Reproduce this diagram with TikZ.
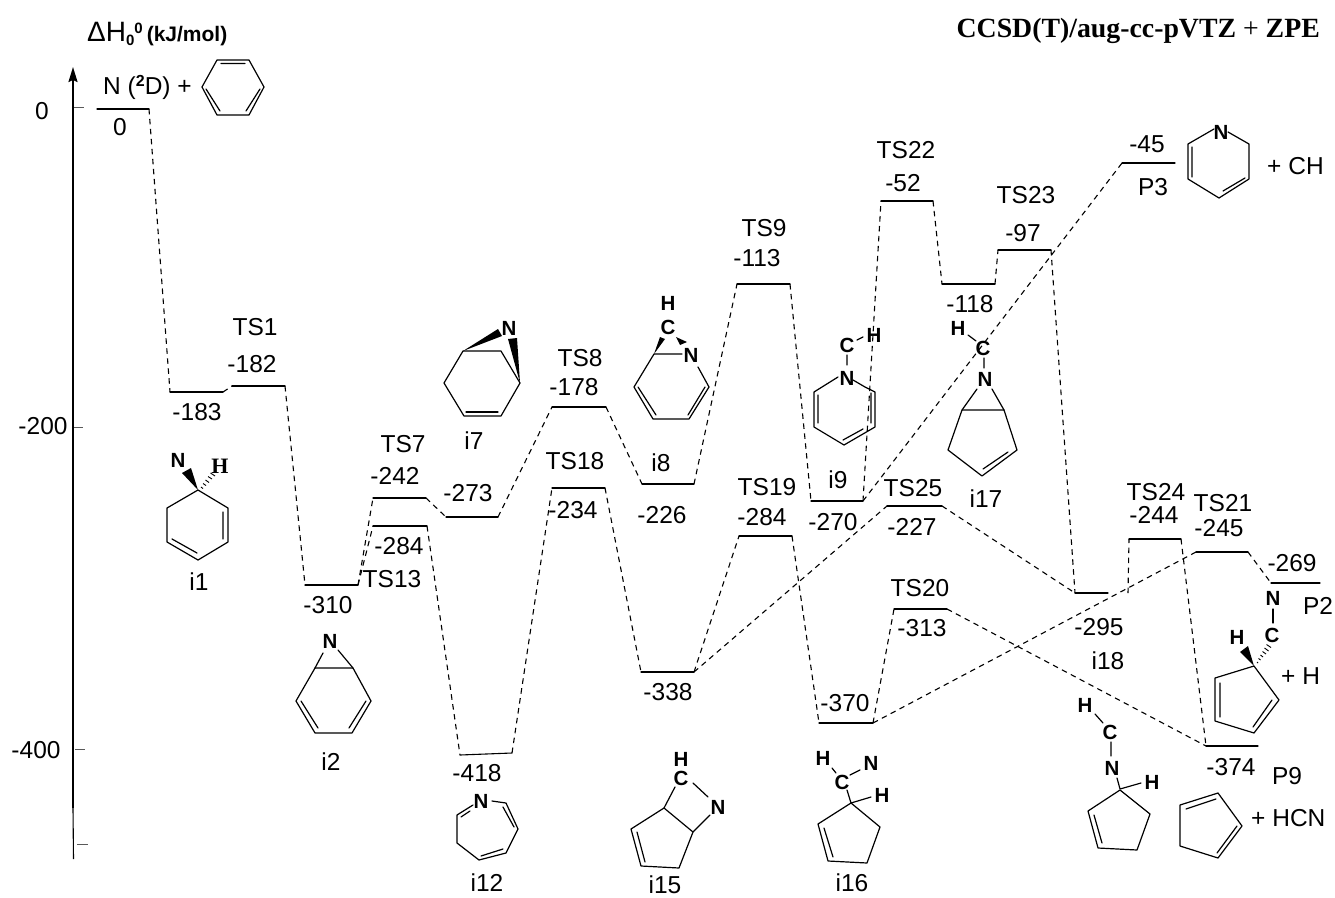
\documentclass[tikz,border=0pt]{standalone}
\usepackage{fontspec}
\setmainfont{Liberation Sans}
\newfontfamily\serifttl{Liberation Serif}
\usetikzlibrary{arrows.meta}
\tikzset{
  level/.style={line width=1.1pt,line cap=round},
  conn/.style={line width=1.1pt,dash pattern=on 5.5pt off 4.5pt},
  bond/.style={line width=1.2pt,line join=round,line cap=round},
  tick/.style={line width=0.9pt,black!65},
  lbl/.style={inner sep=0pt,font=\fontsize{24.5}{25}\selectfont},
  atom/.style={inner sep=0pt,font=\fontsize{20.5}{21}\selectfont\bfseries}
}
\newcommand{\enlev}[4]{\coordinate (#1-l) at (#2,#4);\coordinate (#1-r) at (#3,#4);\draw[level] (#1-l) -- (#1-r);}
\newcommand{\wdg}[6]{\fill (#1,#2) -- (#3,#4) -- (#5,#6) -- cycle;}
\begin{document}
\begin{tikzpicture}[x=1pt,y=-1pt]
\useasboundingbox (0,0) rectangle (1335,897);
% axis
\coordinate (axtop) at (73,67);
\coordinate (axmid) at (73,808);
\coordinate (axbot) at (73.5,859);
\draw[line width=1.8pt,-{Stealth[length=15pt,width=9pt,inset=2pt]}] (axmid) -- (axtop);
\draw[line width=1.1pt] (axmid) -- (axbot);
\coordinate (t0a) at (74,107);\coordinate (t0b) at (84,107);\draw[tick] (t0a) -- (t0b);
\coordinate (t2a) at (74,427);\coordinate (t2b) at (83,427);\draw[tick] (t2a) -- (t2b);
\coordinate (t4a) at (75,749);\coordinate (t4b) at (85,749);\draw[tick] (t4a) -- (t4b);
\coordinate (t6a) at (77,844);\coordinate (t6b) at (88,844);\draw[tick] (t6a) -- (t6b);
\node[lbl] (a0) at (42,111) {0};
\node[lbl] (a2) at (43,426) {-200};
\node[lbl] (a4) at (36,750) {-400};
% titles
\node[inner sep=0pt,anchor=base west,font=\fontsize{28}{28}\selectfont] (ttl) at (87,41) {ΔH\raisebox{-4pt}{\fontsize{15}{15}\selectfont\bfseries 0}\raisebox{8pt}{\fontsize{15}{15}\selectfont\bfseries 0}\hspace{4pt}{\fontsize{21}{21}\selectfont\bfseries (kJ/mol)}};
\node[inner sep=0pt,anchor=base east,font=\fontsize{27.8}{28}\selectfont\serifttl] (ttr) at (1320,37) {\textbf{CCSD(T)/aug-cc-pVTZ} + \textbf{ZPE}};
% levels
\enlev{R}{97}{149}{109}
\enlev{i1}{170}{223}{392}
\enlev{ts1}{232}{285}{386}
\enlev{i2}{305}{358}{585}
\enlev{ts7}{373}{426}{498}
\enlev{ts13}{373}{427}{526}
\enlev{i7}{446}{498}{517}
\enlev{ts8}{552}{606}{407}
\enlev{i8}{642}{694}{484}
\enlev{ts9}{737}{790}{284}
\enlev{i9}{811}{863}{501}
\enlev{ts22}{881}{933}{201}
\enlev{m118}{942}{995}{284}
\enlev{ts23}{998}{1051}{250}
\enlev{i18}{1075}{1108}{593}
\enlev{ts24}{1129}{1181}{539}
\enlev{ts21}{1196}{1248}{552}
\enlev{p2}{1271}{1320}{583}
\enlev{p9}{1206}{1258}{746}
\enlev{p3}{1122}{1175}{163}
\enlev{i15}{641}{694}{672}
\enlev{i16}{819}{873}{723}
\enlev{ts18}{552}{605}{488}
\enlev{ts19}{739}{792}{536}
\enlev{ts25}{887}{942}{506}
\enlev{ts20}{894}{947}{609}
\coordinate (i12-l) at (460,755);\coordinate (i12-r) at (512,753);\draw[level] (i12-l) -- (i12-r);
\coordinate (i18-x) at (1128,593);
% connectors
\draw[conn] (R-r) -- (i1-l);
\draw[conn] (i1-r) -- (ts1-l);
\draw[conn] (ts1-r) -- (i2-l);
\draw[conn] (i2-r) -- (ts7-l);
\draw[conn] (i2-r) -- (ts13-l);
\draw[conn] (ts7-r) -- (i7-l);
\draw[conn] (i7-r) -- (ts8-l);
\draw[conn] (ts8-r) -- (i8-l);
\draw[conn] (i8-r) -- (ts9-l);
\draw[conn] (ts9-r) -- (i9-l);
\draw[conn] (i9-r) -- (ts22-l);
\draw[conn] (i9-r) -- (p3-l);
\draw[conn] (ts22-r) -- (m118-l);
\draw[conn] (m118-r) -- (ts23-l);
\draw[conn] (ts23-r) -- (i18-l);
\draw[conn] (i18-x) -- (ts24-l);
\draw[conn] (ts24-r) -- (p9-l);
\draw[conn] (ts13-r) -- (i12-l);
\draw[conn] (i12-r) -- (ts18-l);
\draw[conn] (ts18-r) -- (i15-l);
\draw[conn] (i15-r) -- (ts19-l);
\draw[conn] (i15-r) -- (ts25-l);
\draw[conn] (ts19-r) -- (i16-l);
\draw[conn] (i16-r) -- (ts20-l);
\draw[conn] (i16-r) -- (ts21-l);
\draw[conn] (ts20-r) -- (p9-l);
\draw[conn] (ts25-r) -- (i18-l);
\draw[conn] (ts21-r) -- (p2-l);
% labels
\node[lbl,anchor=base west] (nd) at (103,94) {N (\raisebox{8pt}{\fontsize{16}{16}\selectfont\bfseries 2}D) +};
\foreach \n/\x/\y/\t in {l0/120/127/0,l1/255/327/TS1,l2/252/364/-182,l3/197/412/-183,l4/199/582/i1,
 l5/403/444/TS7,l6/395/476/-242,l7/399/546/-284,l8/392/579/TS13,l9/328/605/-310,l10/331/762/i2,
 l11/468/493/-273,l12/474/441/i7,l13/580/358/TS8,l14/574/387/-178,l15/575/461/TS18,l16/573/510/-234,
 l17/661/463/i8,l18/662/515/-226,l19/764/228/TS9,l20/757/258/-113,l21/767/487/TS19,l22/762/517/-284,
 l23/838/480/i9,l24/833/522/-270,l25/906/150/TS22,l26/903/183/-52,l27/1026/195/TS23,l28/1023/233/-97,
 l29/970/304/-118,l30/1147/144/-45,l31/1153/187/P3,l32/986/499/i17,l33/913/488/TS25,l34/912/527/-227,
 l35/920/588/TS20,l36/922/628/-313,l37/845/703/-370,l38/668/692/-338,l39/477/773/-418,l40/487/883/i12,
 l41/665/885/i15,l42/852/883/i16,l43/1156/492/TS24,l44/1154/515/-244,l45/1223/503/TS21,l46/1219/528/-245,
 l47/1292/563/-269,l48/1318/606/P2,l49/1099/627/-295,l50/1108/661/i18,l51/1231/767/-374,l52/1287/776/P9}
 {\node[lbl] (\n) at (\x,\y) {\t};}
\node[lbl,anchor=west] (pch) at (1267,166) {+ CH};
\node[lbl,anchor=west] (ph) at (1281,676) {+ H};
\node[lbl,anchor=west] (phcn) at (1251,818) {+ HCN};
% benzene
\draw[bond] (217,60) -- (249,60) -- (264,87) -- (249,115) -- (217,115) -- (202,87) -- cycle;
\draw[bond] (221,63.5) -- (245,63.5) (206,89) -- (220,111) (246,111) -- (260,89);
% i1
\node[atom] (a1n) at (178,460) {N};
\node[inner sep=0pt,font=\fontsize{22}{22}\selectfont\serifttl\bfseries] (a1h) at (220,466) {H};
\draw[bond] (198,490) -- (228,508) -- (228,542) -- (198,560) -- (167,542) -- (167,508) -- cycle;
\draw[bond] (223,512) -- (223,539) (172,539) -- (197,553);
\wdg{198}{490}{182}{473}{191}{468}
\draw[line width=0.9pt] (201,487) -- (203,488.5) (203,483.5) -- (206,485.5) (205.5,480) -- (209,482.5) (208,476.5) -- (212,479) (210.5,473) -- (215,476);
% i2
\node[atom] (a2n) at (330,641) {N};
\draw[bond] (315,668) -- (353,668) -- (371,701) -- (352,733) -- (315,733) -- (296,701) -- cycle;
\draw[bond] (315,668) -- (323,653) (353,668) -- (338,650) (301,701) -- (318,728) (366,701) -- (349,728);
% i7
\node[atom] (a7n) at (509,328) {N};
\draw[bond] (463,351) -- (501,351) -- (520,383) -- (501,416) -- (464,416) -- (444,383) -- cycle;
\draw[bond] (466,412) -- (498,412);
\wdg{463}{351}{498}{329}{502}{336}
\wdg{520}{383}{508}{339}{517}{338}
% i8
\node[atom] (a8h) at (668,303) {H};
\node[atom] (a8c) at (668,327) {C};
\node[atom] (a8n) at (691,355) {N};
\draw[bond] (682,354) -- (654,354) -- (634,387) -- (653,419) -- (689,419) -- (709,387) -- (698,367);
\draw[bond] (638,387) -- (656,415) (705,387) -- (688,415);
\wdg{654}{354}{660}{337}{665}{339}
\wdg{676}{337}{687}{342}{680}{345}
% i9
\node[atom] (a9c) at (847,345) {C};
\node[atom] (a9h) at (874,335) {H};
\node[atom] (a9n) at (847,378) {N};
\draw[bond] (857,340) -- (863,337) (847,355) -- (847,365);
\draw[bond] (838,377) -- (814,392) -- (814,427) -- (844,445) -- (875,427) -- (875,392) -- (865,387) (853,380) -- (865,387);
\draw[bond] (818,395) -- (818,423) (843,440) -- (863,429) (871,393) -- (871,423);
% i17
\node[atom] (a17h) at (958,328) {H};
\node[atom] (a17c) at (983,348) {C};
\node[atom] (a17n) at (985,379) {N};
\draw[bond] (968,335) -- (976,341) (984,358) -- (984,368);
\draw[bond] (962,410) -- (1004,410) -- (1017,450) -- (982,476) -- (948,450) -- cycle;
\draw[bond] (962,410) -- (977,389) (1004,410) -- (992,389) (983,469) -- (1008,452);
% P3 pyridine fragment
\node[atom] (p3n) at (1221,132) {N};
\draw[bond] (1214,129) -- (1188,144) -- (1188,179) -- (1219,198) -- (1249,179) -- (1249,144) -- (1228,132);
\draw[bond] (1192,147) -- (1192,177) (1223,191) -- (1245,178);
% P2
\node[atom] (p2n) at (1273,598) {N};
\node[atom] (p2c) at (1272,635) {C};
\node[atom] (p2h) at (1237,637) {H};
\draw[bond] (1273,609) -- (1273,623);
\draw[bond] (1254,666) -- (1279,700) -- (1254,733) -- (1215,721) -- (1215,678) -- cycle;
\draw[bond] (1220,683) -- (1220,717) (1253,727) -- (1272,700);
\wdg{1254}{666}{1240}{652}{1248}{646}
\draw[line width=0.9pt] (1257,662) -- (1258,663) (1258.5,658.5) -- (1260.5,660) (1260.5,655) -- (1263,657) (1262.5,651.5) -- (1266,654) (1264.5,648) -- (1268.5,651) (1266.5,644.5) -- (1271,647.5);
% i18 structure
\node[atom] (b18h) at (1085,705) {H};
\node[atom] (b18c) at (1110,732) {C};
\node[atom] (b18n) at (1112,768) {N};
\node[atom] (b18i) at (1152,782) {H};
\draw[bond] (1095,714) -- (1103,723) (1111,742) -- (1111,756) (1117,778) -- (1120,789) -- (1141,783);
\draw[bond] (1120,790) -- (1150,814) -- (1137,850) -- (1098,848) -- (1088,811) -- cycle;
\draw[bond] (1094,815) -- (1102,843);
% P9 ring
\draw[bond] (1180,805) -- (1218,793) -- (1242,826) -- (1218,858) -- (1180,846) -- cycle;
\draw[bond] (1186,809) -- (1216,799) (1217,853) -- (1237,826);
% i12
\node[atom] (a12n) at (481,801) {N};
\draw[bond] (473,805) -- (457,815) -- (457,843) -- (479,860) -- (506,853) -- (518,829) -- (506,803) -- (492,801);
\draw[bond] (461,817) -- (470,811) (481,856) -- (503,849) (503,807) -- (514,827);
% i15
\node[atom] (a15h) at (681,759) {H};
\node[atom] (a15c) at (681,778) {C};
\node[atom] (a15n) at (718,807) {N};
\draw[bond] (693,783) -- (708,797) (675,787) -- (664,808) -- (693,832) -- (710,815);
\draw[bond] (664,808) -- (631,829) -- (641,866) -- (679,868) -- (693,832);
\draw[bond] (637,832) -- (645,862);
% i16
\node[atom] (a16h) at (823,758) {H};
\node[atom] (a16n) at (871,763) {N};
\node[atom] (a16c) at (842,782) {C};
\node[atom] (a16i) at (882,795) {H};
\draw[bond] (832,768) -- (836,773) (850,775) -- (860,770) (847,790) -- (851,803) -- (871,797);
\draw[bond] (851,803) -- (880,827) -- (867,863) -- (828,861) -- (818,824) -- cycle;
\draw[bond] (824,828) -- (833,857);
\end{tikzpicture}
\end{document}
